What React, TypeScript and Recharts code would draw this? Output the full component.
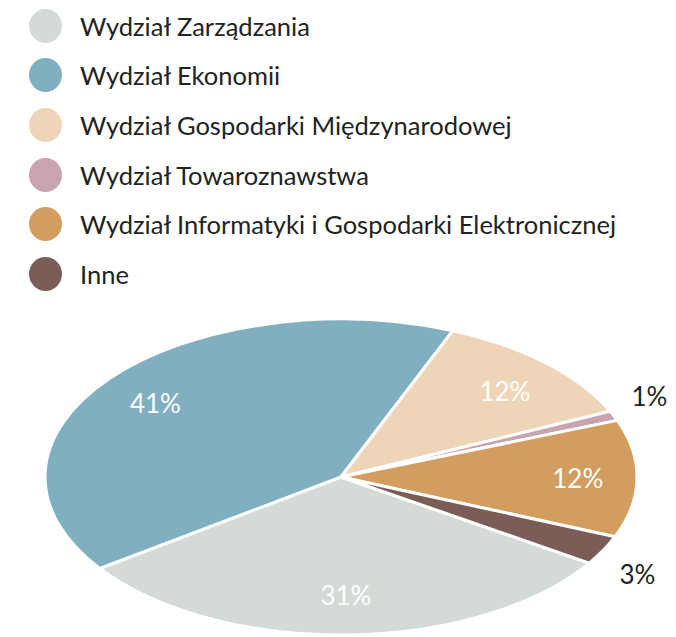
import { Pie, PieChart } from 'recharts';

const faculties = [
  'Wydział Zarządzania',
  'Wydział Ekonomii',
  'Wydział Gospodarki Międzynarodowej',
  'Wydział Towaroznawstwa',
  'Wydział Informatyki i Gospodarki Elektronicznej',
  'Inne',
];
const shares = [31, 41, 12, 1, 12, 3];
const colors = ['#d4dbd7', '#80b0bf', '#efd5b8', '#c8a4b0', '#d49d60', '#7b5d58'];

const data = faculties.map((name, i) => ({ name, value: shares[i], fill: colors[i] }));

// pie is drawn squashed into an ellipse
const RX = 296;
const RY = 158;
const RAD = Math.PI / 180;

const pt = (cx: number, cy: number, a: number, rx = RX, ry = RY) => ({
  x: cx + rx * Math.cos(a * RAD),
  y: cy - ry * Math.sin(a * RAD),
});

function EllipseSector(props: any) {
  const { cx, cy, startAngle, endAngle, fill } = props;
  const p1 = pt(cx, cy, startAngle);
  const p2 = pt(cx, cy, endAngle);
  const large = Math.abs(endAngle - startAngle) > 180 ? 1 : 0;
  const sweep = startAngle > endAngle ? 1 : 0;
  const d = `M${cx},${cy} L${p1.x},${p1.y} A${RX},${RY} 0 ${large} ${sweep} ${p2.x},${p2.y} Z`;
  return <path d={d} fill={fill} stroke="#fff" strokeWidth={3} strokeLinejoin="round" />;
}

function renderLabel(props: any) {
  const { cx, cy, midAngle, percent } = props;
  const pct = Math.round(percent * 100);
  const outside = pct < 5;
  const p = outside
    ? pt(cx, cy, midAngle, RX * 1.13, RY * 1.32)
    : pt(cx, cy, midAngle, RX * 0.8, RY * 0.75);
  return (
    <text
      x={p.x}
      y={p.y}
      fill={outside ? '#222' : '#fff'}
      fontSize={26}
      fontFamily="Lato"
      textAnchor="middle"
      dominantBaseline="central"
    >
      {pct}%
    </text>
  );
}

function LegendList() {
  return (
    <div
      style={{
        position: 'absolute',
        left: 29,
        top: 1,
        fontFamily: 'Lato',
        fontSize: 25.5,
        color: '#222',
      }}
    >
      {faculties.map((name, i) => (
        <div key={name} style={{ display: 'flex', alignItems: 'center', height: 49.6 }}>
          <span
            style={{
              display: 'inline-block',
              width: 33,
              height: 34,
              borderRadius: '50%',
              background: colors[i],
              marginRight: 18,
            }}
          />
          <span style={{ whiteSpace: 'nowrap' }}>{name}</span>
        </div>
      ))}
    </div>
  );
}

export default function App() {
  return (
    <div style={{ position: 'absolute', left: 0, top: 0, width: 676, height: 637, background: '#fff' }}>
      <PieChart width={676} height={637} margin={{ top: 0, right: 0, bottom: 0, left: 0 }}>
        <Pie
          data={data}
          dataKey="value"
          nameKey="name"
          cx={341}
          cy={477}
          outerRadius={RX}
          startAngle={-33}
          endAngle={-393}
          shape={EllipseSector}
          label={renderLabel}
          labelLine={false}
          isAnimationActive={false}
        />
      </PieChart>
      <LegendList />
    </div>
  );
}
